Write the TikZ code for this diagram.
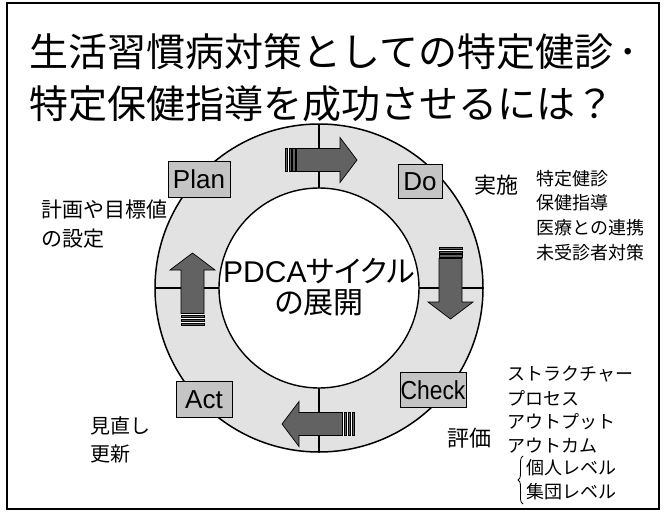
\documentclass[tikz,border=0pt]{standalone}
\usepackage{fontspec}
\usepackage{graphicx}
\setmainfont{Liberation Sans}
\newfontfamily\jp{Noto Sans CJK JP}
\newfontfamily\jpp[RawFeature=+palt]{Noto Sans CJK JP}
\usetikzlibrary{decorations.pathreplacing}
\definecolor{ringgray}{HTML}{E2E2E2}
\definecolor{boxgray}{HTML}{C4C4C4}
\definecolor{arrowgray}{HTML}{626262}
\newcommand{\fs}[1]{\fontsize{#1}{#1}\selectfont}
\newcommand{\blockarrow}{%
  \fill[white] (0,-11.5) rectangle (11,11.5);
  \filldraw[fill=arrowgray,draw=black,line width=0.6pt] (0,-11.5) rectangle (2.2,11.5);
  \filldraw[fill=arrowgray,draw=black,line width=0.6pt] (3.8,-11.5) rectangle (6.2,11.5);
  \filldraw[fill=arrowgray,draw=black,line width=0.6pt] (7.6,-11.5) rectangle (10.2,11.5);
  \filldraw[fill=arrowgray,draw=black,line width=0.7pt]
    (11.5,-11.5) -- (55,-11.5) -- (55,-22.5) -- (72,0) -- (55,22.5) -- (55,11.5) -- (11.5,11.5) -- cycle;
}
\tikzset{
  stagebox/.style={draw=black,line width=0.8pt,fill=boxgray,inner sep=0pt,
    font=\fs{26},text height=18.5pt,text depth=0pt},
  jtext/.style={inner sep=0pt,anchor=west},
}
\begin{document}
\begin{tikzpicture}[x=1pt,y=-1pt]
\useasboundingbox (0,0) rectangle (666,514);
\draw[line width=1.2pt] (7,3) rectangle (659,509);
% title
\node[jtext] (t1) at (29,52) {\jp\fs{39}生活習慣病対策としての特定健診\hspace{5pt}･};
\node[jtext] (t2) at (29,104) {\jp\fs{39}特定保健指導を成功させるには？};
% ring
\coordinate (c) at (319,288);
\fill[ringgray,even odd rule] (c) circle[radius=164] (c) circle[radius=100];
\draw[line width=1.1pt] (319,124) -- (319,188);
\draw[line width=1.1pt] (319,388) -- (319,452);
\draw[line width=1.1pt] (155,288) -- (219,288);
\draw[line width=1.1pt] (419,288) -- (483,288);
\draw[line width=1.5pt] (c) circle[radius=164];
\draw[line width=1.4pt] (c) circle[radius=100];
% arrows
\begin{scope}[shift={(285,160)}]\blockarrow\end{scope}
\begin{scope}[shift={(450.5,247)},rotate=-90]\blockarrow\end{scope}
\begin{scope}[shift={(354,424)},rotate=180]\blockarrow\end{scope}
\begin{scope}[shift={(192.5,325)},rotate=90]\blockarrow\end{scope}
% boxes
\node[stagebox,minimum width=62pt,minimum height=36pt] (plan) at (199,179) {Plan};
\node[stagebox,minimum width=44pt,minimum height=34pt] (do) at (420,181) {Do};
\node[stagebox,minimum width=66pt,minimum height=35pt] (check) at (433,390) {\scalebox{0.88}[1]{Check}};
\node[stagebox,minimum width=56pt,minimum height=36pt] (act) at (204,399) {Act};
% center
\node[inner sep=0pt,align=center] (pdca) at (319,287) {\fs{30}PDCA{\jpp サイクル}\\[5pt]{\jpp\fs{30}の展開}};
% side texts
\node[jtext] (jisshi) at (474,185) {\jp\fs{22}実施};
\node[jtext] (d1) at (536,179) {\jp\fs{18}特定健診};
\node[jtext] (d2) at (536,203) {\jp\fs{18}保健指導};
\node[jtext] (d3) at (536,228) {\jp\fs{18}医療との連携};
\node[jtext] (d4) at (536,253) {\jp\fs{18}未受診者対策};
\node[jtext] (p1) at (41,210) {\jp\fs{21}計画や目標値};
\node[jtext] (p2) at (41,239) {\jp\fs{21}の設定};
\node[jtext] (a1) at (90,426) {\jp\fs{20}見直し};
\node[jtext] (a2) at (90,454) {\jp\fs{20}更新};
\node[jtext] (hyoka) at (447,438) {\jp\fs{22}評価};
\node[jtext] (c1) at (507,374) {\jp\fs{18}ストラクチャー};
\node[jtext] (c2) at (507,398) {\jp\fs{18}プロセス};
\node[jtext] (c3) at (507,422) {\jp\fs{18}アウトプット};
\node[jtext] (c4) at (507,446) {\jp\fs{18}アウトカム};
\node[jtext] (c5) at (526,468) {\jp\fs{18}個人レベル};
\node[jtext] (c6) at (526,492) {\jp\fs{18}集団レベル};
\coordinate (bb) at (523,504);
\coordinate (bt) at (523,456);
\draw[line width=0.8pt,decorate,decoration={brace,amplitude=5pt}] (bb) -- (bt);
\end{tikzpicture}
\end{document}
